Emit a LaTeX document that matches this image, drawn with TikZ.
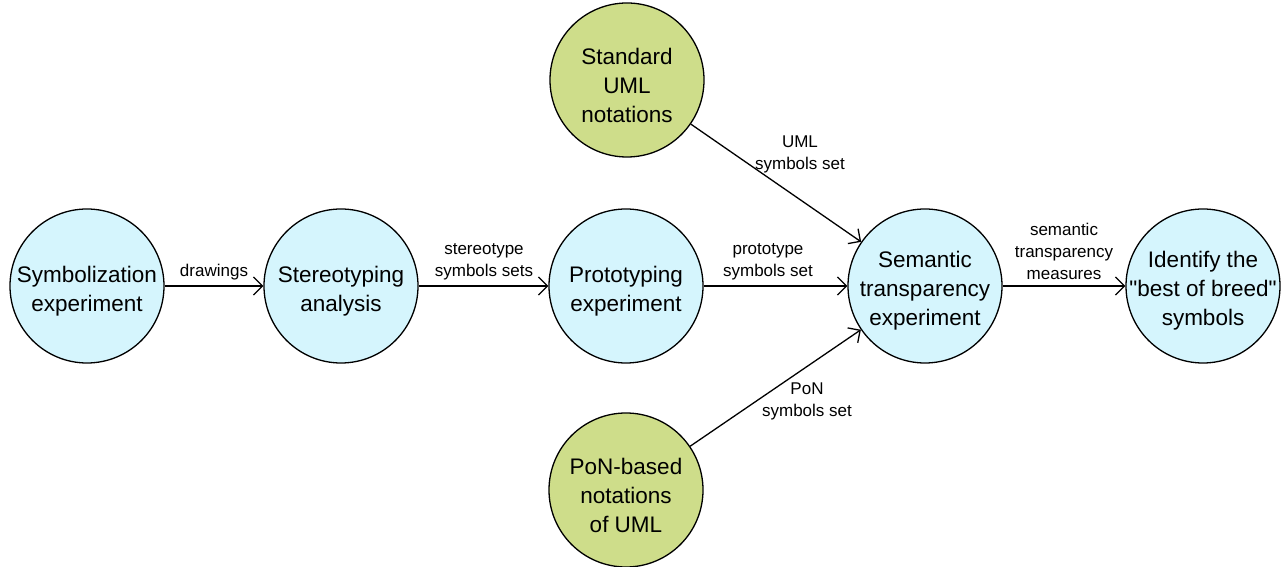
\documentclass[tikz,border=0pt]{standalone}
\usepackage{fontspec}
\setmainfont{Liberation Sans}
\usepackage{tikz}
\usetikzlibrary{arrows.meta}
\definecolor{stageblue}{RGB}{213,245,253}
\definecolor{inputgreen}{RGB}{206,221,138}
\tikzset{
  stage/.style={shape=circle, draw, line width=1.3pt, fill=stageblue, minimum size=154pt, inner sep=0pt},
  inputstage/.style={stage, fill=inputgreen},
  stagetext/.style={align=center, inner sep=0pt, yshift=-5pt, font=\fontsize{22.5}{29}\selectfont},
  flow/.style={line width=1.3pt, -{Straight Barb[length=9pt,width=18pt,line width=1.3pt]}},
  flowlabel/.style={align=center, inner sep=0pt, font=\fontsize{17}{22}\selectfont}
}
\newcommand{\stagenode}[4]{\node[stage, label={[stagetext]center:#4}] (#1) at ( #2 , #3 ) {};}
\newcommand{\inputnode}[4]{\node[inputstage, label={[stagetext]center:#4}] (#1) at ( #2 , #3 ) {};}
\newcommand{\flowlabl}[4]{\node[flowlabel] (#1) at ( #2 , #3 ) {#4};}
\begin{document}
\begin{tikzpicture}[x=1pt,y=1pt]
        \useasboundingbox (0,0) rectangle (1285,567);
        % main row
        \stagenode{symb}{87}{281}{Symbolization\\experiment}
        \stagenode{stereo}{341}{281}{Stereotyping\\analysis}
        \stagenode{proto}{626}{281}{Prototyping\\experiment}
        \stagenode{semtr}{925}{281}{Semantic\\transparency\\experiment}
        \stagenode{best}{1203}{281}{Identify the\\\textquotedbl best of breed\textquotedbl\\symbols}
        % inputs
        \inputnode{umlstd}{627}{487}{Standard\\UML\\notations}
        \inputnode{ponuml}{626}{77}{PoN-based\\notations\\of UML}

        % connectors
        \draw[flow] (symb) -- (stereo);
        \draw[flow] (stereo) -- (proto);
        \draw[flow] (proto) -- (semtr);
        \draw[flow] (umlstd) -- (semtr);
        \draw[flow] (ponuml) -- (semtr);
        \draw[flow] (semtr) -- (best);

        % labels
        \flowlabl{drawl}{214}{295}{drawings}
        \flowlabl{stereol}{484}{305}{stereotype\\symbols sets}
        \flowlabl{protol}{768}{305}{prototype\\symbols set}
        \flowlabl{umll}{800}{413}{UML\\symbols set}
        \flowlabl{ponl}{807}{166}{PoN\\symbols set}
        \flowlabl{seml}{1064}{316}{semantic\\transparency\\measures}
\end{tikzpicture}
\end{document}
